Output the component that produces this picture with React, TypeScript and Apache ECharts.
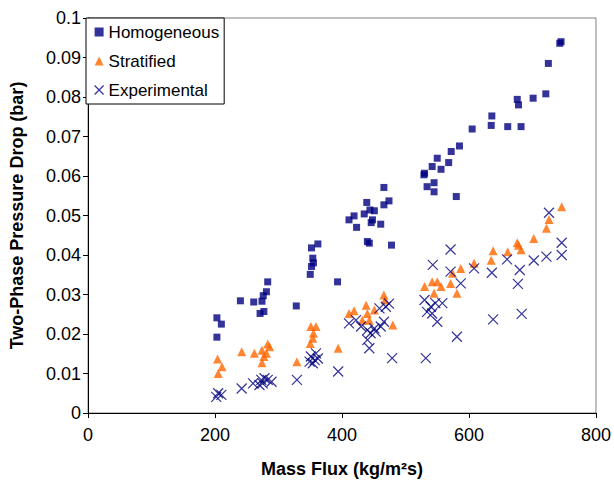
import React, { useEffect, useRef } from "react";
import * as echarts from "echarts";

// Mass flux (kg/m²s), two-phase pressure drop (bar)
const homogeneous: [number, number][] = [
  [203, 0.0241], [210, 0.0225], [203, 0.0192], [240, 0.0284], [261, 0.0281], [274, 0.0283],
  [276, 0.0297], [281, 0.0307], [283, 0.0332], [271, 0.0252], [277, 0.0257], [328, 0.0271],
  [352, 0.0418], [362, 0.0428], [354, 0.0392], [352, 0.0371], [350, 0.0351], [355, 0.038],
  [393, 0.0332], [411, 0.0489], [419, 0.0499], [423, 0.047], [435, 0.0504], [444, 0.0514],
  [451, 0.0512], [439, 0.0533], [466, 0.0571], [466, 0.0527], [474, 0.0537], [461, 0.0478],
  [446, 0.0482], [448, 0.0489], [440, 0.0434], [443, 0.043], [478, 0.0425], [530, 0.0607],
  [529, 0.0603], [542, 0.0624], [550, 0.0645], [556, 0.0617], [534, 0.0573], [545, 0.0583],
  [545, 0.056], [568, 0.0634], [572, 0.0662], [585, 0.0676], [580, 0.0548], [605, 0.0719],
  [636, 0.0752], [635, 0.0728], [676, 0.0794], [678, 0.078], [701, 0.0797], [721, 0.0808],
  [661, 0.0725], [682, 0.0725], [725, 0.0885], [745, 0.094], [743, 0.0936],
];

const stratified: [number, number][] = [
  [204, 0.0137], [211, 0.0117], [205, 0.01], [242, 0.0155], [262, 0.0151], [274, 0.0159],
  [283, 0.0175], [277, 0.0143], [274, 0.0127], [281, 0.0151], [286, 0.0168], [329, 0.013],
  [351, 0.0219], [355, 0.0202], [350, 0.0176], [359, 0.0219], [354, 0.0189], [394, 0.0164],
  [411, 0.0252], [419, 0.0259], [438, 0.0273], [440, 0.0252], [451, 0.0261], [466, 0.0299],
  [468, 0.0286], [480, 0.0223], [432, 0.0235], [443, 0.0235], [530, 0.032], [542, 0.0332],
  [550, 0.0332], [556, 0.032], [545, 0.0303], [571, 0.0328], [581, 0.0303], [587, 0.0366],
  [574, 0.0354], [608, 0.0379], [638, 0.0411], [635, 0.0387], [661, 0.0408], [676, 0.0431],
  [682, 0.0413], [678, 0.0425], [702, 0.0442], [722, 0.0468], [726, 0.049], [746, 0.0522],
];

const experimental: [number, number][] = [
  [205, 0.005], [210, 0.0046], [202, 0.0041], [242, 0.0062], [260, 0.0075], [273, 0.0084],
  [278, 0.0088], [283, 0.0084], [275, 0.0075], [289, 0.0079], [270, 0.0071], [329, 0.0084],
  [351, 0.0143], [357, 0.0134], [349, 0.013], [362, 0.0138], [354, 0.0126], [359, 0.0151],
  [394, 0.0105], [411, 0.0227], [422, 0.0235], [430, 0.0219], [440, 0.021], [445, 0.0202],
  [453, 0.0206], [461, 0.0219], [466, 0.0231], [469, 0.0269], [474, 0.0277], [459, 0.0265],
  [440, 0.0185], [443, 0.0164], [479, 0.0139], [451, 0.0214], [532, 0.0139], [530, 0.0286],
  [540, 0.0269], [547, 0.0278], [542, 0.0252], [550, 0.0231], [558, 0.0278], [534, 0.0256],
  [543, 0.0375], [571, 0.0414], [571, 0.0358], [587, 0.0328], [581, 0.0193], [608, 0.0366],
  [636, 0.0355], [660, 0.0389], [680, 0.0362], [677, 0.0327], [702, 0.0386], [722, 0.0396],
  [746, 0.0431], [746, 0.04], [726, 0.0507], [638, 0.0237], [683, 0.0251],
];

const FONT = "Arial, 'Liberation Sans', sans-serif";
const NAVY = "#000080";
const ORANGE = "#FF6600";
const CROSS = "path://M0,0L10,10M0,10L10,0";

export default function App() {
  const ref = useRef<HTMLDivElement>(null);
  useEffect(() => {
    if (!ref.current) return;
    const chart = echarts.init(ref.current, undefined, { renderer: "svg" });
    chart.setOption({
      animation: false,
      backgroundColor: "#ffffff",
      grid: {
        left: 86,
        top: 18,
        right: 18,
        bottom: 72,
        show: true,
        borderColor: "#808080",
        borderWidth: 1,
        backgroundColor: "transparent",
      },
      legend: {
        orient: "vertical",
        left: 86,
        top: 18,
        backgroundColor: "#ffffff",
        borderColor: "#000000",
        borderWidth: 1,
        borderRadius: 0,
        padding: [5, 5, 5, 8],
        itemGap: 11,
        itemWidth: 9,
        itemHeight: 9,
        textStyle: { fontFamily: FONT, fontSize: 17, color: "#000", lineHeight: 18 },
        data: [
          { name: "Homogeneous", icon: "rect", itemStyle: { color: NAVY } },
          { name: "Stratified", icon: "triangle", itemStyle: { color: ORANGE } },
          {
            name: "Experimental",
            icon: CROSS,
            itemStyle: { color: "rgba(0,0,0,0)", borderColor: NAVY, borderWidth: 1.2 },
          },
        ],
      },
      xAxis: {
        type: "value",
        min: 0,
        max: 800,
        interval: 200,
        name: "Mass Flux (kg/m²s)",
        nameLocation: "middle",
        nameGap: 47,
        nameTextStyle: { fontFamily: FONT, fontSize: 18, fontWeight: "bold", color: "#000" },
        axisLine: { show: true, onZero: false, lineStyle: { color: "#000", width: 1 } },
        axisTick: { show: true, inside: false, length: 5, lineStyle: { color: "#000" } },
        axisLabel: { fontFamily: FONT, fontSize: 18, color: "#000", margin: 13 },
        splitLine: { show: false },
      },
      yAxis: {
        type: "value",
        min: 0,
        max: 0.1,
        interval: 0.01,
        name: "Two-Phase Pressure Drop (bar)",
        nameLocation: "middle",
        nameGap: 62,
        nameTextStyle: { fontFamily: FONT, fontSize: 18, fontWeight: "bold", color: "#000" },
        axisLine: { show: true, onZero: false, lineStyle: { color: "#000", width: 1 } },
        axisTick: { show: true, inside: false, length: 5, lineStyle: { color: "#000" } },
        axisLabel: {
          fontFamily: FONT,
          fontSize: 18,
          color: "#000",
          margin: 7,
          formatter: (v: number) => String(parseFloat(v.toFixed(2))),
        },
        splitLine: { show: false },
      },
      series: [
        {
          name: "Homogeneous",
          type: "scatter",
          data: homogeneous,
          symbol: "rect",
          symbolSize: 7,
          itemStyle: { color: NAVY },
          z: 3,
        },
        {
          name: "Stratified",
          type: "scatter",
          data: stratified,
          symbol: "triangle",
          symbolSize: [9, 9],
          itemStyle: { color: ORANGE },
          z: 2,
        },
        {
          name: "Experimental",
          type: "scatter",
          data: experimental,
          symbol: CROSS,
          symbolSize: 10,
          itemStyle: { color: "rgba(0,0,0,0)", borderColor: NAVY, borderWidth: 1.2 },
          z: 4,
        },
      ],
    });
    return () => chart.dispose();
  }, []);
  return (
    <div
      ref={ref}
      style={{ position: "absolute", left: 0, top: 0, width: 614, height: 485 }}
    />
  );
}
